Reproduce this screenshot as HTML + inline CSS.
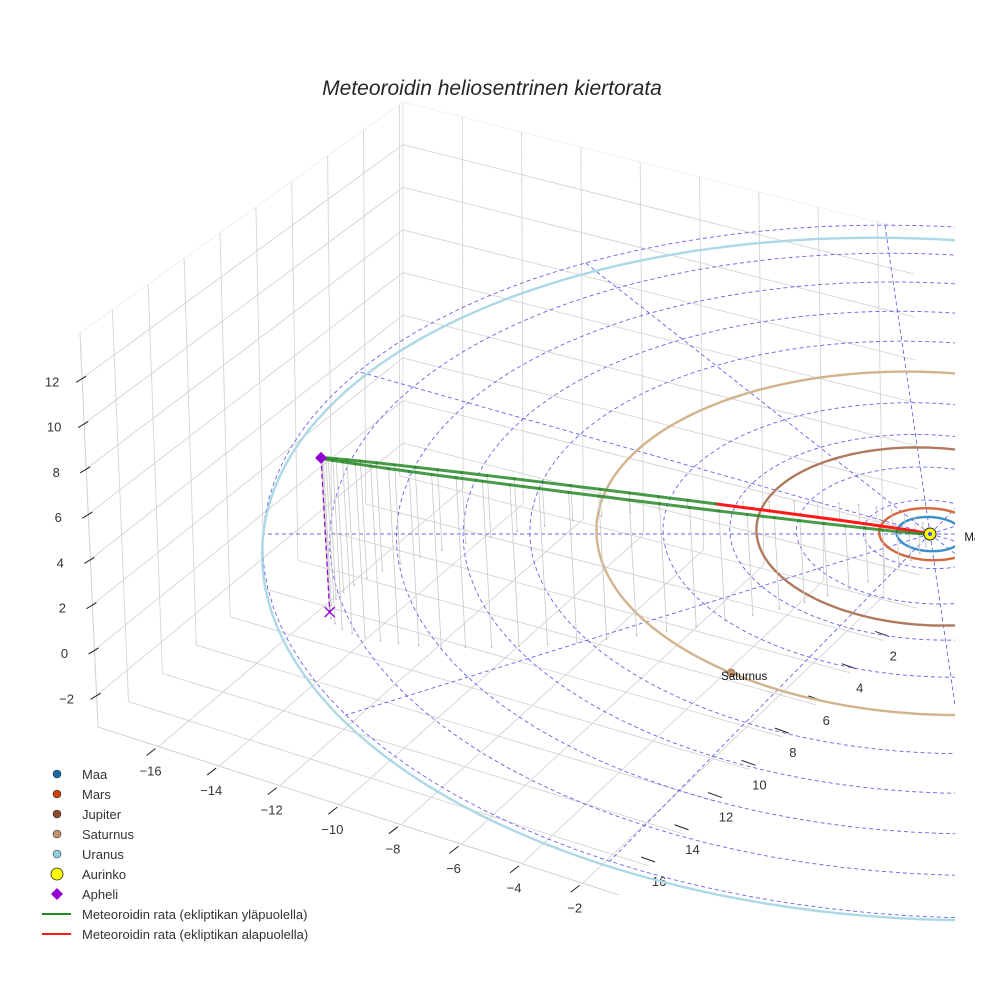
<!DOCTYPE html>
<html><head><meta charset="utf-8"><style>
html,body{margin:0;padding:0;background:#fff;}
svg{display:block;font-family:"Liberation Sans",sans-serif;}
</style></head><body>
<svg id="chart" width="984" height="984" viewBox="0 0 984 984" xmlns="http://www.w3.org/2000/svg">
<defs>
<clipPath id="plotclip"><rect x="0" y="0" width="955" height="984"/></clipPath>
<clipPath id="labelclip"><rect x="0" y="0" width="975" height="984"/></clipPath>
</defs>
<text x="492" y="95" text-anchor="middle" font-size="21" font-style="italic" fill="#262626">Meteoroidin heliosentrinen kiertorata</text>
<g id="grid" clip-path="url(#plotclip)"></g>
<g id="ticks"></g>
<g id="plot" clip-path="url(#plotclip)"></g>
<g id="labels" clip-path="url(#labelclip)"></g>
<g id="legend"></g>
</svg>
<script>
// ---- data ----
const xTicks = [-16,-14,-12,-10,-8,-6,-4,-2];
const yTicks = [2,4,6,8,10,12,14,16];
const zTicks = [-2,0,2,4,6,8,10,12];
const yGrid = [0,2,4,6,8,10,12,14,16];
const ringRadii = [2,4,6,8,10,12,14,16,18,20];
const spokeAngles = [0,30,60,90,120,150,180,210,240,270,300,330];
const planetNames = ["Maa","Mars","Jupiter","Saturnus","Uranus"];
const planetRadii = [1.0,1.52,5.2,10.0,19.6];
const planetCenterX = [0,0,0,0,-0.4];
const planetCenterY = [0,0,0,0,0.5];
const planetAngles = [0,-25,-8,231,-35];
const planetOrbitColors = ["#3b8fc6","#d2693e","#b07a5e","#d2b48c","#add8e6"];
const planetColors = ["#1a6aa8","#c8400c","#8a4a2c","#c4926a","#8fcfe0"];
const labelDx = [1,10,10,-10,10];
const aphelion = [-17.9, 4.45, 7.0];
const minorAxisDir = [0, -1.35, -1.0];
const semiMinor = [2.6];
const orbitSamples = [64];

// ---- projection ----
const NS="http://www.w3.org/2000/svg";
const SUN=[930,534], KX=33.35, KY=17.12, KZ=21.5, TILT=2.5, C=-0.00542;
function proj(X,Y,Z){const w=1+C*Y;return [SUN[0]+(X*KX+Y*TILT-Z*1.2)/w, SUN[1]+(Y*KY-Z*KZ)/w];}
function mk(tag,attrs,parent){const e=document.createElementNS(NS,tag);for(const k in attrs)e.setAttribute(k,attrs[k]);parent.appendChild(e);return e;}
function bl(p00,p10,p01,p11,u,v){return [(1-u)*(1-v)*p00[0]+u*(1-v)*p10[0]+(1-u)*v*p01[0]+u*v*p11[0],(1-u)*(1-v)*p00[1]+u*(1-v)*p10[1]+(1-u)*v*p01[1]+u*v*p11[1]];}
const xmin=-18,xmax=-0.8,ymin=-0.2,ymax=17.8,zmin=-3.4,zmax=14;
const BB=[403,473],A=[98,727],BT=[403,102],LT=[80,333],RB=[920,605],RT=[913,231],B=[619,895];
const gx=v=>(v-xmin)/(xmax-xmin), gy=v=>(v-ymin)/(ymax-ymin), gz=v=>(v-zmin)/(zmax-zmin);
const grid=document.getElementById('grid');
function gl(p,q,col,name){const l=mk('line',{x1:p[0].toFixed(1),y1:p[1].toFixed(1),x2:q[0].toFixed(1),y2:q[1].toFixed(1),stroke:col||'#d4d4d4','stroke-width':0.9},grid);

}
gl(LT,BT,'#eeeeee','pane-edge');gl(BT,RT,'#eeeeee','pane-edge');gl(LT,A,'#cccccc','pane-edge');gl(A,B,'#cccccc','pane-edge');gl(BT,BB,'#dddddd','pane-edge');
xTicks.forEach(x=>{const u=gx(x);
 gl(bl(BB,RB,A,B,u,0),bl(BB,RB,A,B,u,1),null,'floor-x-gridline');
 gl(bl(BB,RB,BT,RT,u,0),bl(BB,RB,BT,RT,u,1),null,'back-x-gridline');});
yGrid.forEach(y=>{const v=gy(y);
 gl(bl(BB,RB,A,B,0,v),bl(BB,RB,A,B,1,v),null,'floor-y-gridline');
 gl(bl(BB,A,BT,LT,v,0),bl(BB,A,BT,LT,v,1),null,'left-y-gridline');});
zTicks.forEach(z=>{const v=gz(z);
 gl(bl(BB,A,BT,LT,0,v),bl(BB,A,BT,LT,1,v),null,'left-z-gridline');
 gl(bl(BB,RB,BT,RT,0,v),bl(BB,RB,BT,RT,1,v),null,'back-z-gridline');});
const tk=document.getElementById('ticks');
function tickMark(p,d1,d2,name){const l=mk('line',{x1:p[0]+d1[0],y1:p[1]+d1[1],x2:p[0]+d2[0],y2:p[1]+d2[1],stroke:'#222','stroke-width':1},tk);

}
function tickLabel(p,txt,name,anchor){const t=mk('text',{x:p[0].toFixed(1),y:p[1].toFixed(1),'font-size':13,fill:'#333','text-anchor':anchor||'middle'},tk);t.textContent=txt.replace('-','\u2212');

}
xTicks.forEach(x=>{const p=bl(BB,RB,A,B,gx(x),1);tickMark(p,[-3,2],[-12,9],'x-tick');tickLabel([p[0]-8,p[1]+29],String(x),'x-tick-label');});
yTicks.forEach(y=>{const p=bl(BB,RB,A,B,1,gy(y));tickMark(p,[-8,-9],[6,-4],'y-tick');tickLabel([p[0]+10,p[1]+20],String(y),'y-tick-label');});
zTicks.forEach(z=>{const p=bl(BB,A,BT,LT,1,gz(z));tickMark(p,[-6,4],[4,-2],'z-tick');tickLabel([p[0]-30,p[1]+8],String(z),'z-tick-label');});

// ---- plot ----
const plot=document.getElementById('plot');
function pathFrom(pts){return pts.map((p,i)=>(i?'L':'M')+p[0].toFixed(1)+' '+p[1].toFixed(1)).join(' ');}
ringRadii.forEach(r=>{const pts=[];for(let a=0;a<=360;a+=3){const t=a*Math.PI/180;pts.push(proj(r*Math.cos(t),-r*Math.sin(t),0));}
 const e=mk('path',{d:pathFrom(pts),fill:'none',stroke:'#4a4ae6','stroke-width':0.9,'stroke-dasharray':'4 3',opacity:0.85},plot);
 
 });
spokeAngles.forEach(a=>{const t=a*Math.PI/180;const p=proj(0,0,0),q=proj(20*Math.cos(t),-20*Math.sin(t),0);
 const e=mk('line',{x1:p[0],y1:p[1],x2:q[0],y2:q[1],stroke:'#4a4ae6','stroke-width':0.9,'stroke-dasharray':'4 3',opacity:0.85},plot);
 
 });
planetRadii.forEach((r,i)=>{const pts=[];for(let a=0;a<=360;a+=2){const t=a*Math.PI/180;pts.push(proj(planetCenterX[i]+r*Math.cos(t),planetCenterY[i]-r*Math.sin(t),0));}
 const e=mk('path',{d:pathFrom(pts),fill:'none',stroke:planetOrbitColors[i],'stroke-width':2.4},plot);
 
 });
const N=orbitSamples[0], pts3=[];
for(let k=0;k<=N;k++){const E=2*Math.PI*k/N;const s=0.5*(1-Math.cos(E)),g=semiMinor[0]*Math.sin(E);
 pts3.push([s*aphelion[0]+g*minorAxisDir[0],s*aphelion[1]+g*minorAxisDir[1],s*aphelion[2]+g*minorAxisDir[2]]);}
pts3.forEach(p=>{const a=proj(p[0],p[1],p[2]),b=proj(p[0],p[1],0);
 const e=mk('line',{x1:a[0],y1:a[1],x2:b[0],y2:b[1],stroke:'#c8c8c8','stroke-width':0.8},plot);
 
 
 const d=mk('circle',{cx:b[0],cy:b[1],r:0.9,fill:'#bbbbbb'},plot);
 
 });
for(let k=0;k<N;k++){const p=pts3[k],q=pts3[k+1];const zm=(p[2]+q[2])/2;const a=proj(...p),b=proj(...q);
 const e=mk('line',{x1:a[0],y1:a[1],x2:b[0],y2:b[1],stroke:zm<0?'#ff1a1a':'#2a8a2a','stroke-width':3,'stroke-linecap':'round',opacity:zm<0?1:0.85},plot);
 
 }
const ap=proj(...aphelion), apf=proj(aphelion[0],aphelion[1],0);
let e=mk('line',{x1:ap[0],y1:ap[1],x2:apf[0],y2:apf[1],stroke:'#9400d3','stroke-width':1.2,'stroke-dasharray':'5 3'},plot);


e=mk('path',{d:`M${apf[0]-5} ${apf[1]-5}L${apf[0]+5} ${apf[1]+5}M${apf[0]-5} ${apf[1]+5}L${apf[0]+5} ${apf[1]-5}`,stroke:'#9400d3','stroke-width':1.4,fill:'none'},plot);


e=mk('path',{d:`M${ap[0]} ${ap[1]-6}L${ap[0]+6} ${ap[1]}L${ap[0]} ${ap[1]+6}L${ap[0]-6} ${ap[1]}Z`,fill:'#9400d3'},plot);


const sp=proj(0,0,0);
e=mk('circle',{cx:sp[0],cy:sp[1],r:6,fill:'#ffff00',stroke:'#222','stroke-width':1},plot);


e=mk('circle',{cx:sp[0],cy:sp[1],r:2,fill:'#4a4ae6'},plot);


const lab=document.getElementById('labels');
planetRadii.forEach((r,i)=>{const t=planetAngles[i]*Math.PI/180;const p=proj(planetCenterX[i]+r*Math.cos(t),planetCenterY[i]-r*Math.sin(t),0);
 const c=mk('circle',{cx:p[0],cy:p[1],r:4,fill:planetColors[i],stroke:'#555','stroke-width':0.5},plot);
 
 
 if(p[0]<990){const tx=mk('text',{x:p[0]+labelDx[i],y:p[1]+7,'font-size':11.5,fill:'#111'},lab);tx.textContent=planetNames[i];
 
 }});

const lg=document.getElementById('legend');
const legendLabels=["Maa","Mars","Jupiter","Saturnus","Uranus","Aurinko","Apheli","Meteoroidin rata (ekliptikan yläpuolella)","Meteoroidin rata (ekliptikan alapuolella)"];
legendLabels.forEach((t,i)=>{const y=774+i*20;const g=mk('g',{},lg);
 
 
 if(i<5)mk('circle',{cx:57,cy:y,r:4,fill:planetColors[i],stroke:'#333','stroke-width':0.6},g);
 else if(i===5)mk('circle',{cx:57,cy:y,r:6,fill:'#ffff00',stroke:'#222','stroke-width':0.8},g);
 else if(i===6)mk('path',{d:`M57 ${y-6}L63 ${y}L57 ${y+6}L51 ${y}Z`,fill:'#9400d3'},g);
 else mk('line',{x1:42,y1:y,x2:71,y2:y,stroke:i===7?'#1f8a1f':'#ff1a1a','stroke-width':2},g);
 const tx=mk('text',{x:82,y:y+5,'font-size':13,fill:'#333'},g);tx.textContent=t;});
</script>
</body></html>
